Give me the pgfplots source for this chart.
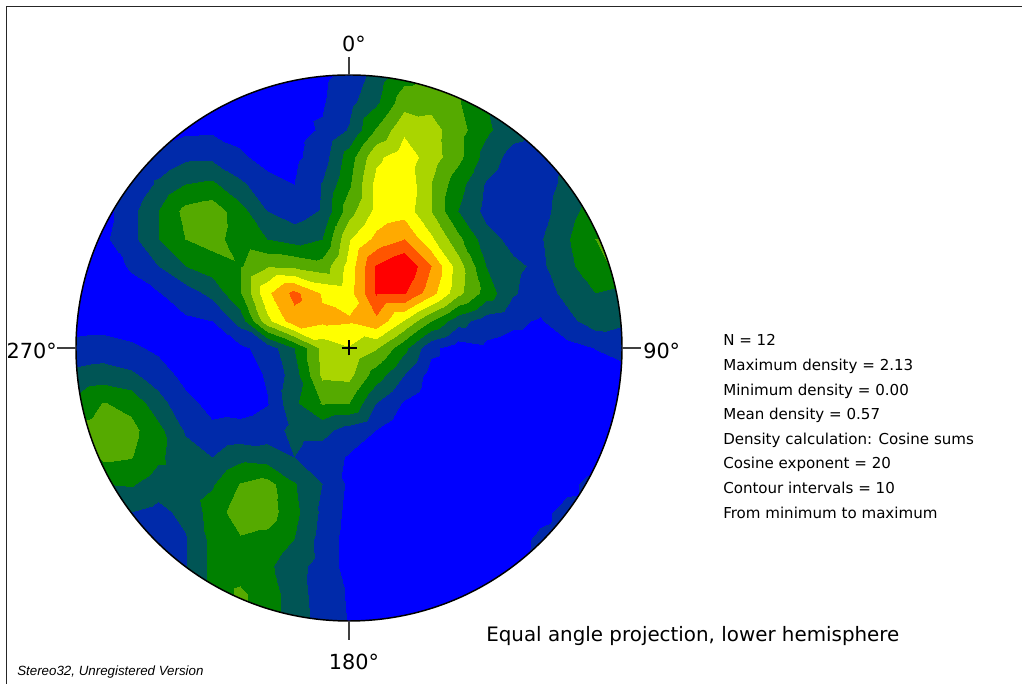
\documentclass[border=0pt]{standalone}
\usepackage{pgfplots}
\pgfplotsset{compat=1.18}
\usepackage{fontspec}
\setmainfont{DejaVu Sans}
\newfontfamily\arialfont{Liberation Sans}
\begin{document}
\begin{tikzpicture}
\useasboundingbox (0pt,0pt) rectangle (766.5pt,513pt);
\begin{axis}[at={(261.75pt,252pt)}, anchor=center, width=409.5pt, height=409.5pt,
  scale only axis, xmin=-1, xmax=1, ymin=-1, ymax=1, view={0}{90}, hide axis,
  colormap={stereo}{rgb255(0cm)=(0,0,255); rgb255(1cm)=(0,42,170); rgb255(2cm)=(0,85,85);
    rgb255(3cm)=(0,128,0); rgb255(4cm)=(85,170,0); rgb255(5cm)=(170,213,0);
    rgb255(6cm)=(255,255,0); rgb255(7cm)=(255,170,0); rgb255(8cm)=(255,85,0);
    rgb255(9cm)=(255,0,0); rgb255(10cm)=(255,0,0)},
  colormap access=piecewise constant, point meta min=0, point meta max=10]
% density grid, in contour-level units (1 level = 0.213)
\addplot3[surf, shader=interp, mesh/cols=21] table[row sep=\\] {
x y z\\
-1 -1 3.0\\ -0.9 -1 3.0\\ -0.8 -1 3.0\\ -0.7 -1 3.0\\ -0.6 -1 3.0\\ -0.5 -1 3.0\\ -0.4 -1 4.0\\ -0.3 -1 3.5\\ -0.2 -1 2.5\\ -0.1 -1 1.6\\ 0 -1 0.95\\ 0.1 -1 0.3\\ 0.2 -1 0.3\\ 0.3 -1 0.3\\ 0.4 -1 0.3\\ 0.5 -1 0.3\\ 0.6 -1 0.3\\ 0.7 -1 0.3\\ 0.8 -1 0.3\\ 0.9 -1 0.3\\ 1 -1 0.3\\
-1 -0.9 3.3\\ -0.9 -0.9 3.3\\ -0.8 -0.9 3.3\\ -0.7 -0.9 3.3\\ -0.6 -0.9 3.3\\ -0.5 -0.9 3.3\\ -0.4 -0.9 4.2\\ -0.3 -0.9 3.5\\ -0.2 -0.9 2.5\\ -0.1 -0.9 1.5\\ 0 -0.9 0.9\\ 0.1 -0.9 0.3\\ 0.2 -0.9 0.3\\ 0.3 -0.9 0.3\\ 0.4 -0.9 0.3\\ 0.5 -0.9 0.3\\ 0.6 -0.9 0.6\\ 0.7 -0.9 0.6\\ 0.8 -0.9 0.5\\ 0.9 -0.9 0.5\\ 1 -0.9 0.5\\
-1 -0.8 1.8\\ -0.9 -0.8 1.8\\ -0.8 -0.8 1.8\\ -0.7 -0.8 1.8\\ -0.6 -0.8 1.9\\ -0.5 -0.8 3.3\\ -0.4 -0.8 3.5\\ -0.3 -0.8 3.2\\ -0.2 -0.8 2.4\\ -0.1 -0.8 1.6\\ 0 -0.8 0.6\\ 0.1 -0.8 0.3\\ 0.2 -0.8 0.3\\ 0.3 -0.8 0.3\\ 0.4 -0.8 0.3\\ 0.5 -0.8 0.3\\ 0.6 -0.8 0.95\\ 0.7 -0.8 1.2\\ 0.8 -0.8 0.5\\ 0.9 -0.8 0.5\\ 1 -0.8 0.5\\
-1 -0.7 1.5\\ -0.9 -0.7 1.5\\ -0.8 -0.7 1.5\\ -0.7 -0.7 1.4\\ -0.6 -0.7 1.9\\ -0.5 -0.7 3.3\\ -0.4 -0.7 3.9\\ -0.3 -0.7 3.7\\ -0.2 -0.7 3.0\\ -0.1 -0.7 1.6\\ 0 -0.7 0.6\\ 0.1 -0.7 0.3\\ 0.2 -0.7 0.3\\ 0.3 -0.7 0.3\\ 0.4 -0.7 0.3\\ 0.5 -0.7 0.3\\ 0.6 -0.7 0.7\\ 0.7 -0.7 1.15\\ 0.8 -0.7 1.3\\ 0.9 -0.7 1.0\\ 1 -0.7 0.5\\
-1 -0.6 1.8\\ -0.9 -0.6 1.8\\ -0.8 -0.6 2.0\\ -0.7 -0.6 1.7\\ -0.6 -0.6 2.3\\ -0.5 -0.6 3.4\\ -0.4 -0.6 4.6\\ -0.3 -0.6 4.5\\ -0.2 -0.6 3.3\\ -0.1 -0.6 1.8\\ 0 -0.6 0.7\\ 0.1 -0.6 0.3\\ 0.2 -0.6 0.3\\ 0.3 -0.6 0.3\\ 0.4 -0.6 0.3\\ 0.5 -0.6 0.3\\ 0.6 -0.6 0.3\\ 0.7 -0.6 0.8\\ 0.8 -0.6 1.25\\ 0.9 -0.6 1.3\\ 1 -0.6 1.0\\
-1 -0.5 2.5\\ -0.9 -0.5 3.0\\ -0.8 -0.5 3.1\\ -0.7 -0.5 2.5\\ -0.6 -0.5 2.5\\ -0.5 -0.5 2.9\\ -0.4 -0.5 4.05\\ -0.3 -0.5 4.4\\ -0.2 -0.5 3.1\\ -0.1 -0.5 2.0\\ 0 -0.5 0.8\\ 0.1 -0.5 0.3\\ 0.2 -0.5 0.3\\ 0.3 -0.5 0.3\\ 0.4 -0.5 0.3\\ 0.5 -0.5 0.3\\ 0.6 -0.5 0.3\\ 0.7 -0.5 0.3\\ 0.8 -0.5 0.8\\ 0.9 -0.5 1.3\\ 1 -0.5 1.3\\
-1 -0.4 3.2\\ -0.9 -0.4 4.2\\ -0.8 -0.4 4.05\\ -0.7 -0.4 3.2\\ -0.6 -0.4 2.4\\ -0.5 -0.4 2.0\\ -0.4 -0.4 2.7\\ -0.3 -0.4 2.5\\ -0.2 -0.4 2.0\\ -0.1 -0.4 1.5\\ 0 -0.4 0.9\\ 0.1 -0.4 0.3\\ 0.2 -0.4 0.3\\ 0.3 -0.4 0.3\\ 0.4 -0.4 0.3\\ 0.5 -0.4 0.3\\ 0.6 -0.4 0.3\\ 0.7 -0.4 0.3\\ 0.8 -0.4 0.3\\ 0.9 -0.4 0.3\\ 1 -0.4 0.3\\
-1 -0.3 4.3\\ -0.9 -0.3 4.6\\ -0.8 -0.3 4.3\\ -0.7 -0.3 3.3\\ -0.6 -0.3 1.9\\ -0.5 -0.3 1.2\\ -0.4 -0.3 1.3\\ -0.3 -0.3 1.5\\ -0.2 -0.3 2.3\\ -0.1 -0.3 2.3\\ 0 -0.3 1.6\\ 0.1 -0.3 1.0\\ 0.2 -0.3 0.3\\ 0.3 -0.3 0.3\\ 0.4 -0.3 0.3\\ 0.5 -0.3 0.3\\ 0.6 -0.3 0.3\\ 0.7 -0.3 0.3\\ 0.8 -0.3 0.3\\ 0.9 -0.3 0.3\\ 1 -0.3 0.3\\
-1 -0.2 3.2\\ -0.9 -0.2 4.05\\ -0.8 -0.2 3.7\\ -0.7 -0.2 2.4\\ -0.6 -0.2 1.3\\ -0.5 -0.2 0.7\\ -0.4 -0.2 0.6\\ -0.3 -0.2 0.95\\ -0.2 -0.2 2.8\\ -0.1 -0.2 4.1\\ 0 -0.2 4.0\\ 0.1 -0.2 2.0\\ 0.2 -0.2 0.9\\ 0.3 -0.2 0.3\\ 0.4 -0.2 0.3\\ 0.5 -0.2 0.3\\ 0.6 -0.2 0.3\\ 0.7 -0.2 0.3\\ 0.8 -0.2 0.3\\ 0.9 -0.2 0.3\\ 1 -0.2 0.3\\
-1 -0.1 2.3\\ -0.9 -0.1 2.5\\ -0.8 -0.1 2.2\\ -0.7 -0.1 1.5\\ -0.6 -0.1 0.7\\ -0.5 -0.1 0.4\\ -0.4 -0.1 0.5\\ -0.3 -0.1 1.1\\ -0.2 -0.1 2.5\\ -0.1 -0.1 5.2\\ 0 -0.1 5.3\\ 0.1 -0.1 3.5\\ 0.2 -0.1 2.0\\ 0.3 -0.1 0.6\\ 0.4 -0.1 0.4\\ 0.5 -0.1 0.3\\ 0.6 -0.1 0.3\\ 0.7 -0.1 0.3\\ 0.8 -0.1 0.4\\ 0.9 -0.1 0.6\\ 1 -0.1 0.8\\
-1 0 1.3\\ -0.9 0 1.4\\ -0.8 0 1.2\\ -0.7 0 0.8\\ -0.6 0 0.5\\ -0.5 0 0.6\\ -0.4 0 0.8\\ -0.3 0 1.4\\ -0.2 0 3.0\\ -0.1 0 5.3\\ 0 0 5.9\\ 0.1 0 5.1\\ 0.2 0 3.3\\ 0.3 0 1.25\\ 0.4 0 0.5\\ 0.5 0 0.8\\ 0.6 0 0.6\\ 0.7 0 0.6\\ 0.8 0 0.7\\ 0.9 0 1.02\\ 1 0 1.2\\
-1 0.1 0.6\\ -0.9 0.1 0.6\\ -0.8 0.1 0.4\\ -0.7 0.1 0.5\\ -0.6 0.1 0.85\\ -0.5 0.1 1.0\\ -0.4 0.1 2.4\\ -0.3 0.1 5.7\\ -0.2 0.1 7.6\\ -0.1 0.1 7.2\\ 0 0.1 7.1\\ 0.1 0.1 7.75\\ 0.2 0.1 5.9\\ 0.3 0.1 4.0\\ 0.4 0.1 2.4\\ 0.5 0.1 1.5\\ 0.6 0.1 1.2\\ 0.7 0.1 0.9\\ 0.8 0.1 1.7\\ 0.9 0.1 2.5\\ 1 0.1 2.2\\
-1 0.2 0.3\\ -0.9 0.2 0.5\\ -0.8 0.2 0.7\\ -0.7 0.2 0.95\\ -0.6 0.2 1.5\\ -0.5 0.2 2.3\\ -0.4 0.2 3.9\\ -0.3 0.2 6.8\\ -0.2 0.2 8.3\\ -0.1 0.2 6.9\\ 0 0.2 6.6\\ 0.1 0.2 9.1\\ 0.2 0.2 9.1\\ 0.3 0.2 7.4\\ 0.4 0.2 5.3\\ 0.5 0.2 3.6\\ 0.6 0.2 2.1\\ 0.7 0.2 1.5\\ 0.8 0.2 2.3\\ 0.9 0.2 3.0\\ 1 0.2 2.8\\
-1 0.3 0.3\\ -0.9 0.3 0.6\\ -0.8 0.3 1.1\\ -0.7 0.3 2.0\\ -0.6 0.3 3.0\\ -0.5 0.3 3.5\\ -0.4 0.3 3.9\\ -0.3 0.3 4.9\\ -0.2 0.3 4.8\\ -0.1 0.3 4.4\\ 0 0.3 6.4\\ 0.1 0.3 9.1\\ 0.2 0.3 10.0\\ 0.3 0.3 8.0\\ 0.4 0.3 5.5\\ 0.5 0.3 3.0\\ 0.6 0.3 2.2\\ 0.7 0.3 1.8\\ 0.8 0.3 2.7\\ 0.9 0.3 3.8\\ 1 0.3 4.2\\
-1 0.4 0.3\\ -0.9 0.4 0.8\\ -0.8 0.4 1.7\\ -0.7 0.4 3.0\\ -0.6 0.4 4.0\\ -0.5 0.4 4.4\\ -0.4 0.4 3.5\\ -0.3 0.4 3.0\\ -0.2 0.4 2.6\\ -0.1 0.4 3.0\\ 0 0.4 5.9\\ 0.1 0.4 7.3\\ 0.2 0.4 8.0\\ 0.3 0.4 6.2\\ 0.4 0.4 4.3\\ 0.5 0.4 2.4\\ 0.6 0.4 1.7\\ 0.7 0.4 1.9\\ 0.8 0.4 2.9\\ 0.9 0.4 4.0\\ 1 0.4 4.2\\
-1 0.5 0.3\\ -0.9 0.5 0.6\\ -0.8 0.5 1.7\\ -0.7 0.5 3.0\\ -0.6 0.5 4.3\\ -0.5 0.5 4.6\\ -0.4 0.5 3.4\\ -0.3 0.5 2.0\\ -0.2 0.5 1.5\\ -0.1 0.5 2.1\\ 0 0.5 4.6\\ 0.1 0.5 6.3\\ 0.2 0.5 6.6\\ 0.3 0.5 5.0\\ 0.4 0.5 3.0\\ 0.5 0.5 1.7\\ 0.6 0.5 1.2\\ 0.7 0.5 1.6\\ 0.8 0.5 2.6\\ 0.9 0.5 3.5\\ 1 0.5 3.5\\
-1 0.6 0.3\\ -0.9 0.6 0.6\\ -0.8 0.6 1.1\\ -0.7 0.6 2.2\\ -0.6 0.6 3.0\\ -0.5 0.6 3.2\\ -0.4 0.6 2.2\\ -0.3 0.6 1.4\\ -0.2 0.6 1.0\\ -0.1 0.6 2.05\\ 0 0.6 3.85\\ 0.1 0.6 6.3\\ 0.2 0.6 6.8\\ 0.3 0.6 5.0\\ 0.4 0.6 3.4\\ 0.5 0.6 1.9\\ 0.6 0.6 1.2\\ 0.7 0.6 1.5\\ 0.8 0.6 2.3\\ 0.9 0.6 2.6\\ 1 0.6 2.6\\
-1 0.7 0.3\\ -0.9 0.7 0.3\\ -0.8 0.7 0.9\\ -0.7 0.7 1.2\\ -0.6 0.7 1.8\\ -0.5 0.7 1.8\\ -0.4 0.7 1.2\\ -0.3 0.7 0.6\\ -0.2 0.7 0.8\\ -0.1 0.7 1.5\\ 0 0.7 3.5\\ 0.1 0.7 5.8\\ 0.2 0.7 6.6\\ 0.3 0.7 5.5\\ 0.4 0.7 4.3\\ 0.5 0.7 2.6\\ 0.6 0.7 1.6\\ 0.7 0.7 1.4\\ 0.8 0.7 1.8\\ 0.9 0.7 2.0\\ 1 0.7 2.0\\
-1 0.8 0.3\\ -0.9 0.8 0.3\\ -0.8 0.8 0.3\\ -0.7 0.8 0.4\\ -0.6 0.8 0.8\\ -0.5 0.8 0.85\\ -0.4 0.8 0.6\\ -0.3 0.8 0.4\\ -0.2 0.8 0.7\\ -0.1 0.8 1.1\\ 0 0.8 2.1\\ 0.1 0.8 4.1\\ 0.2 0.8 5.8\\ 0.3 0.8 5.4\\ 0.4 0.8 4.4\\ 0.5 0.8 3.2\\ 0.6 0.8 2.4\\ 0.7 0.8 1.5\\ 0.8 0.8 1.4\\ 0.9 0.8 1.4\\ 1 0.8 1.4\\
-1 0.9 0.3\\ -0.9 0.9 0.3\\ -0.8 0.9 0.3\\ -0.7 0.9 0.3\\ -0.6 0.9 0.3\\ -0.5 0.9 0.3\\ -0.4 0.9 0.3\\ -0.3 0.9 0.4\\ -0.2 0.9 0.8\\ -0.1 0.9 0.9\\ 0 0.9 1.7\\ 0.1 0.9 2.8\\ 0.2 0.9 4.6\\ 0.3 0.9 4.7\\ 0.4 0.9 4.1\\ 0.5 0.9 3.0\\ 0.6 0.9 2.3\\ 0.7 0.9 1.5\\ 0.8 0.9 1.3\\ 0.9 0.9 1.3\\ 1 0.9 1.3\\
-1 1 0.3\\ -0.9 1 0.3\\ -0.8 1 0.3\\ -0.7 1 0.3\\ -0.6 1 0.3\\ -0.5 1 0.3\\ -0.4 1 0.3\\ -0.3 1 0.3\\ -0.2 1 0.5\\ -0.1 1 0.8\\ 0 1 1.3\\ 0.1 1 2.4\\ 0.2 1 3.6\\ 0.3 1 4.4\\ 0.4 1 4.1\\ 0.5 1 3.2\\ 0.6 1 2.5\\ 0.7 1 1.5\\ 0.8 1 1.2\\ 0.9 1 1.2\\ 1 1 1.2\\
};
\end{axis}
\begin{scope}[x=0.75pt,y=0.75pt]
% mask outside the net
\fill[white, even odd rule] (60,50) rectangle (640,625) (349,336) circle[radius=273];
\draw[black, line width=1.1pt] (349,336) circle[radius=273];
% ticks and centre cross
\draw[black!75, line width=0.8pt] (349,627) -- (349,609) (57,336) -- (76,336) (622,336) -- (641,336) (349,63) -- (349,44);
\draw[black, line width=0.8pt] (341.5,336) -- (356.5,336) (349,328.5) -- (349,343.5);
% frame
\draw[black!85, line width=1.3pt] (6.5,-10) -- (6.5,677.5) -- (1040,677.5);
% labels
\node[anchor=base, inner sep=0pt, font=\fontsize{15.6}{18}\selectfont] at (354,632) {0°};
\node[anchor=base east, inner sep=0pt, font=\fontsize{15.6}{18}\selectfont] at (57,325) {270°};
\node[anchor=base west, inner sep=0pt, font=\fontsize{15.6}{18}\selectfont] at (643,325) {90°};
\node[anchor=base, inner sep=0pt, font=\fontsize{15.6}{18}\selectfont] at (354,14) {180°};
\begin{scope}[every node/.style={anchor=base west, inner sep=0pt, font=\fontsize{11.3}{13}\selectfont}]
\node at (723,338) {N = 12};
\node at (723,313.4) {Maximum density = 2.13};
\node at (723,288.8) {Minimum density = 0.00};
\node at (723,264.2) {Mean density = 0.57};
\node at (723,239.6) {Density calculation: Cosine sums};
\node at (723,215) {Cosine exponent = 20};
\node at (723,190.4) {Contour intervals = 10};
\node at (723,165.8) {From minimum to maximum};
\end{scope}
\node[anchor=base west, inner sep=0pt, font=\fontsize{14.9}{17}\selectfont] at (486,42) {Equal angle projection, lower hemisphere};
\node[anchor=base west, inner sep=0pt, font=\arialfont\itshape\fontsize{10}{12}\selectfont] at (17,8) {Stereo32, Unregistered Version};
\end{scope}
\end{tikzpicture}
\end{document}
